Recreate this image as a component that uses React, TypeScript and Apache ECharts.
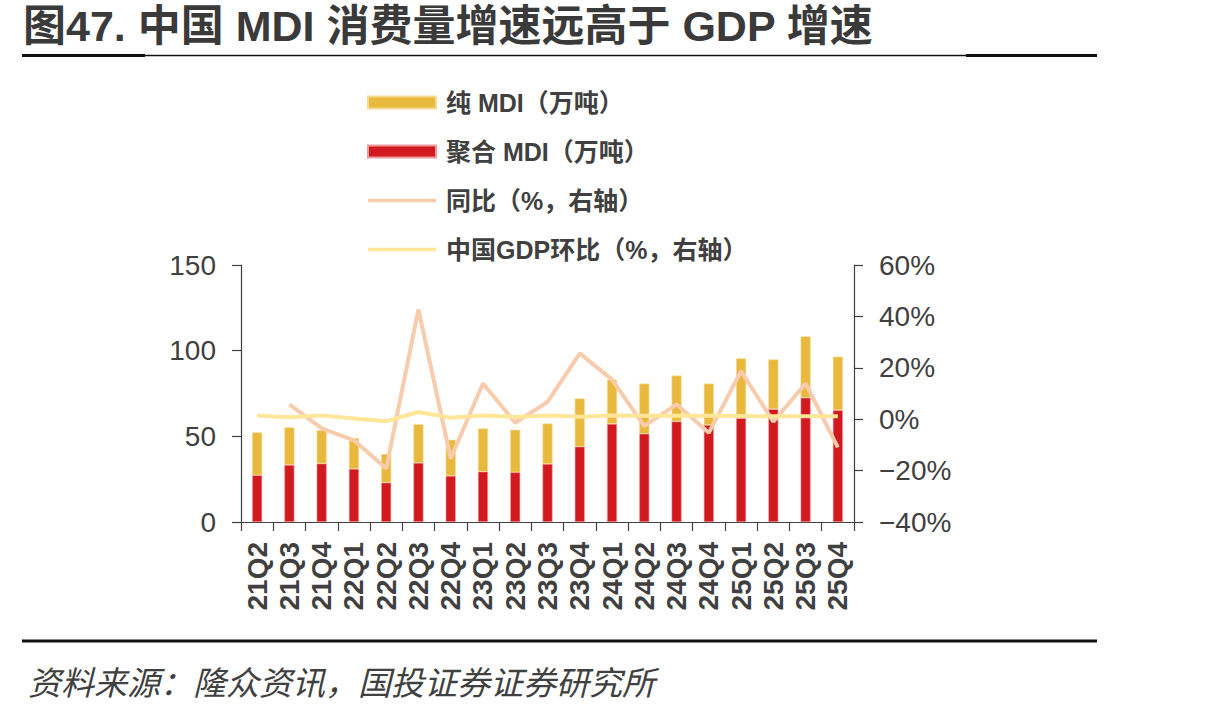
import React, { useEffect, useRef } from "react";
import * as echarts from "echarts";

const categories = [
  "21Q2", "21Q3", "21Q4", "22Q1", "22Q2", "22Q3", "22Q4", "23Q1", "23Q2", "23Q3",
  "23Q4", "24Q1", "24Q2", "24Q3", "24Q4", "25Q1", "25Q2", "25Q3", "25Q4",
];
// 聚合 MDI（万吨）
const polymericMDI = [
  27.3, 33.3, 34.1, 31.0, 23.0, 34.5, 26.9, 29.4, 29.0, 33.9,
  44.0, 57.3, 51.5, 58.7, 56.6, 60.6, 65.9, 72.5, 65.3,
];
// 纯 MDI（万吨）
const pureMDI = [
  25.0, 21.9, 19.4, 18.0, 16.7, 22.5, 21.1, 25.2, 24.8, 23.6,
  28.1, 25.8, 29.3, 26.8, 24.2, 34.9, 29.0, 35.8, 31.2,
];
// 同比（%）
const yoy = [
  null, 5.8, -3.6, -8.2, -19.2, 42.7, -15.3, 13.9, -1.4, 6.7,
  25.6, 15.4, -2.7, 5.8, -5.3, 18.7, -1.0, 13.9, -11.0,
];
// 中国GDP环比（%）
const gdpQoQ = [
  1.4, 0.8, 1.4, 0.3, -0.8, 2.8, 0.6, 1.4, 0.9, 1.4,
  1.0, 1.4, 1.3, 1.3, 1.3, 1.2, 1.1, 1.1, 1.1,
];

const leftTicks = { min: 0, max: 150, interval: 50 };
const rightTicks = { min: -40, max: 60, interval: 20 };

const TITLE = "图47. 中国 MDI 消费量增速远高于 GDP 增速";
const SOURCE = "资料来源：隆众资讯，国投证券证券研究所";

const AXIS_COLOR = "#404040";
const TEXT_COLOR = "#404040";
const LATIN = '"Liberation Sans", Arial, "Noto Sans CJK SC", sans-serif';
const CJK = '"Liberation Sans", "Noto Sans CJK SC", sans-serif';

// thin horizontal stripe used as the legend mark of the line series
const LINE_ICON = "path://M0,0h68v0.01h-68zM0,4.3h68v3.4h-68zM0,11.99h68v0.01h-68z";

export default function App() {
  const ref = useRef<HTMLDivElement | null>(null);

  useEffect(() => {
    if (!ref.current) return;
    const chart = echarts.init(ref.current, null, { renderer: "svg" });

    const axisLine = { show: true, lineStyle: { color: AXIS_COLOR, width: 1.2 } };
    const axisTick = { show: true, length: 9, lineStyle: { color: AXIS_COLOR, width: 1.2 } };

    chart.setOption({
      animation: false,
      backgroundColor: "#ffffff",
      grid: { left: 241, right: 359, top: 265, bottom: 191, containLabel: false },
      legend: {
        orient: "vertical",
        left: 367,
        top: 90,
        padding: 0,
        itemWidth: 68,
        itemHeight: 12,
        itemGap: 24,
        textStyle: {
          color: TEXT_COLOR,
          fontSize: 25,
          lineHeight: 25,
          fontWeight: "bold",
          fontFamily: CJK,
          padding: [0, 0, 0, 5],
        },
        data: [
          { name: "纯 MDI（万吨）", icon: "rect" },
          { name: "聚合 MDI（万吨）", icon: "rect" },
          { name: "同比（%，右轴）", icon: LINE_ICON },
          { name: "中国GDP环比（%，右轴）", icon: LINE_ICON },
        ],
      },
      xAxis: {
        type: "category",
        data: categories,
        boundaryGap: true,
        axisLine,
        axisTick: { ...axisTick, alignWithLabel: false },
        axisLabel: {
          rotate: 90,
          interval: 0,
          margin: 20,
          color: TEXT_COLOR,
          fontSize: 28,
          fontWeight: "bold",
          fontFamily: LATIN,
        },
        splitLine: { show: false },
      },
      yAxis: [
        {
          type: "value",
          position: "left",
          ...leftTicks,
          axisLine,
          axisTick,
          splitLine: { show: false },
          axisLabel: {
            margin: 25,
            color: TEXT_COLOR,
            fontSize: 28,
            fontFamily: LATIN,
          },
        },
        {
          type: "value",
          position: "right",
          ...rightTicks,
          axisLine,
          axisTick,
          splitLine: { show: false },
          axisLabel: {
            margin: 25,
            color: TEXT_COLOR,
            fontSize: 28,
            fontFamily: LATIN,
            formatter: (v: number) => `${v}%`.replace("-", "\u2212"),
          },
        },
      ],
      series: [
        {
          name: "聚合 MDI（万吨）",
          type: "bar",
          stack: "mdi",
          yAxisIndex: 0,
          barWidth: 10,
          data: polymericMDI,
          itemStyle: { color: "#D1191F", borderColor: "#EE9A9A", borderWidth: 0.6 },
        },
        {
          name: "纯 MDI（万吨）",
          type: "bar",
          stack: "mdi",
          yAxisIndex: 0,
          barWidth: 10,
          data: pureMDI,
          itemStyle: { color: "#E9B93D", borderColor: "#F6DA92", borderWidth: 0.6 },
        },
        {
          name: "同比（%，右轴）",
          type: "line",
          yAxisIndex: 1,
          data: yoy,
          symbol: "none",
          connectNulls: false,
          lineStyle: { color: "#F8CBAD", width: 4 },
          itemStyle: { color: "#F8CBAD" },
          z: 3,
        },
        {
          name: "中国GDP环比（%，右轴）",
          type: "line",
          yAxisIndex: 1,
          data: gdpQoQ,
          symbol: "none",
          lineStyle: { color: "#FFE699", width: 4 },
          itemStyle: { color: "#FFE699" },
          z: 4,
        },
      ],
      graphic: [
        {
          type: "text",
          left: 23,
          top: 4,
          style: {
            text: TITLE,
            fill: "#3A3A3A",
            fontSize: 43,
            fontWeight: "bold",
            fontFamily: CJK,
          },
        },
        // rule under the title, heavier at both ends
        {
          type: "line",
          shape: { x1: 22, y1: 55.5, x2: 1097, y2: 55.5 },
          style: { stroke: "#111111", lineWidth: 1.5 },
        },
        {
          type: "line",
          shape: { x1: 22, y1: 55.5, x2: 145, y2: 55.5 },
          style: { stroke: "#111111", lineWidth: 3 },
        },
        {
          type: "line",
          shape: { x1: 966, y1: 55.5, x2: 1097, y2: 55.5 },
          style: { stroke: "#111111", lineWidth: 3 },
        },
        // rule above the source note
        {
          type: "line",
          shape: { x1: 22, y1: 641, x2: 1097, y2: 641 },
          style: { stroke: "#111111", lineWidth: 3 },
        },
        {
          type: "text",
          left: 28,
          top: 664,
          style: {
            text: SOURCE,
            fill: "#404040",
            fontSize: 33,
            fontStyle: "italic",
            fontFamily: '"Noto Sans CJK SC", sans-serif',
          },
        },
      ],
    });

    return () => {
      chart.dispose();
    };
  }, []);

  return (
    <div
      ref={ref}
      style={{ position: "absolute", left: 0, top: 0, width: 1213, height: 713 }}
    />
  );
}
